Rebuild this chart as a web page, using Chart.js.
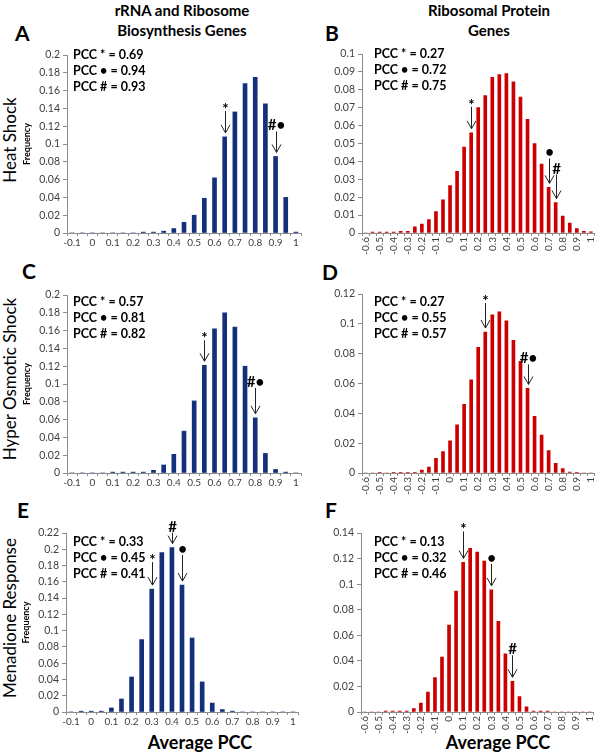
<!DOCTYPE html>
<html>
<head>
<meta charset="utf-8">
<script src="https://cdn.jsdelivr.net/npm/chart.js@4/dist/chart.umd.min.js"></script>
<style>
  body { margin: 0; background: #fff; width: 600px; height: 752px; position: relative; overflow: hidden; font-family: Lato, sans-serif; color: #000; }
  canvas { position: absolute; }
  .txt { position: absolute; white-space: nowrap; }
  .coltitle { font-weight: bold; font-size: 15px; line-height: 20px; text-align: center; width: 220px; }
  .letter { font-size: 21px; line-height: 20px; font-weight: bold; }
  .rowlab { font-size: 17px; transform: translate(-50%, -50%) rotate(-90deg); }
  .xtitle { font-weight: bold; font-size: 18px; transform: translate(-50%, -50%); }
</style>
</head>
<body>

<div class="txt coltitle" style="left:72px; top:0px;">rRNA and Ribosome<br>Biosynthesis Genes</div>
<div class="txt coltitle" style="left:379px; top:0px;">Ribosomal Protein<br>Genes</div>

<div class="txt letter" style="left:15px; top:23px;">A</div>
<div class="txt letter" style="left:325px; top:23px;">B</div>
<div class="txt letter" style="left:22px; top:261px;">C</div>
<div class="txt letter" style="left:322px; top:262px;">D</div>
<div class="txt letter" style="left:17px; top:500px;">E</div>
<div class="txt letter" style="left:325px; top:500px;">F</div>

<div class="txt rowlab" style="left:9px; top:140px;">Heat Shock</div>
<div class="txt rowlab" style="left:9px; top:379px;">Hyper Osmotic Shock</div>
<div class="txt rowlab" style="left:9px; top:618px;">Menadione Response</div>

<div class="txt xtitle" style="left:200px; top:742px;">Average PCC</div>
<div class="txt xtitle" style="left:498px; top:742px;">Average PCC</div>

<script>
// bins (category axis)
const rrnaBins = ['-0.1', '-0.05', '0', '0.05', '0.1', '0.15', '0.2', '0.25', '0.3', '0.35', '0.4', '0.45',
  '0.5', '0.55', '0.6', '0.65', '0.7', '0.75', '0.8', '0.85', '0.9', '0.95', '1'];
const rpBins = ['-0.6', '-0.55', '-0.5', '-0.45', '-0.4', '-0.35', '-0.3', '-0.25', '-0.2', '-0.15', '-0.1', '-0.05',
  '0', '0.05', '0.1', '0.15', '0.2', '0.25', '0.3', '0.35', '0.4', '0.45', '0.5', '0.55', '0.6', '0.65',
  '0.7', '0.75', '0.8', '0.85', '0.9', '0.95', '1'];

// tick labels that are shown
const rrnaTicks = ['-0.1', '0', '0.1', '0.2', '0.3', '0.4', '0.5', '0.6', '0.7', '0.8', '0.9', '1'];
const rpTicks = ['-0.6', '-0.5', '-0.4', '-0.3', '-0.2', '-0.1', '0', '0.1', '0.2', '0.3', '0.4', '0.5',
  '0.6', '0.7', '0.8', '0.9', '1'];

// frequencies
const heatRrna = [0, 0, 0, 0, 0, 0, 0, 0.001, 0.001, 0.002, 0.005, 0.012, 0.02, 0.039, 0.062, 0.108,
  0.136, 0.168, 0.175, 0.145, 0.086, 0.04, 0.001];
const osmoticRrna = [0, 0, 0, 0, 0.001, 0.001, 0.001, 0.001, 0.003, 0.009, 0.021, 0.047, 0.081, 0.121,
  0.162, 0.18, 0.164, 0.12, 0.062, 0.022, 0.004, 0.001, 0];
const menadioneRrna = [0, 0.001, 0.001, 0.001, 0.005, 0.016, 0.043, 0.089, 0.151, 0.196, 0.202, 0.156,
  0.091, 0.037, 0.011, 0.003, 0.001, 0, 0, 0, 0, 0, 0];

const heatRp = [0, 0.0005, 0.0005, 0.0005, 0.0005, 0.001, 0.001, 0.0035, 0.005, 0.0075, 0.012, 0.0185,
  0.0265, 0.0345, 0.048, 0.056, 0.07, 0.0768, 0.087, 0.0885, 0.089, 0.0845, 0.076, 0.0635, 0.05, 0.0385,
  0.0255, 0.017, 0.0095, 0.0055, 0.0025, 0.001, 0.0007];
const osmoticRp = [0, 0, 0.0005, 0, 0.0005, 0.0005, 0.0005, 0.0005, 0.002, 0.004, 0.0098, 0.0143,
  0.0215, 0.0323, 0.046, 0.0625, 0.0843, 0.0945, 0.106, 0.108, 0.102, 0.089, 0.0748, 0.0567, 0.038, 0.0255,
  0.015, 0.0065, 0.003, 0.0007, 0.0005, 0, 0];
const menadioneRp = [0, 0, 0, 0.0007, 0.0007, 0.0007, 0.0007, 0.0027, 0.007, 0.0155, 0.027, 0.043,
  0.068, 0.0945, 0.117, 0.128, 0.125, 0.118, 0.0955, 0.071, 0.0455, 0.024, 0.012, 0.004, 0.0007, 0.0007,
  0.0007, 0, 0, 0, 0, 0, 0];

// PCC values: *, bullet, #
const pccNames = ['PCC * = ', 'PCC \u2022 = ', 'PCC # = '];
const heatRrnaPcc = [0.69, 0.94, 0.93];
const heatRpPcc = [0.27, 0.72, 0.75];
const osmoticRrnaPcc = [0.57, 0.81, 0.82];
const osmoticRpPcc = [0.27, 0.55, 0.57];
const menadioneRrnaPcc = [0.33, 0.45, 0.41];
const menadioneRpPcc = [0.13, 0.32, 0.46];

// arrows: symbol, bin it points at, arrow length
const heatRrnaMarks = [['*', '0.65', 22], ['#\u2022', '0.9', 21]];
const heatRpMarks = [['*', '0.15', 22], ['\u2022', '0.7', 25], ['#', '0.75', 24]];
const osmoticRrnaMarks = [['*', '0.55', 21], ['#\u2022', '0.8', 26]];
const osmoticRpMarks = [['*', '0.25', 25], ['#\u2022', '0.55', 20]];
const menadioneRrnaMarks = [['*', '0.3', 23], ['#', '0.4', 11], ['\u2022', '0.45', 26]];
const menadioneRpMarks = [['*', '0.1', 27], ['\u2022', '0.3', 22], ['#', '0.45', 22]];

const navy = '#13307a';
const red = '#cc0000';

Chart.defaults.font.family = 'Lato, sans-serif';
Chart.defaults.color = '#404040';

// draws the arrows over bars and the PCC text block
const markerPlugin = {
    id: 'markers',
    afterDatasetsDraw(chart, args, opts) {
        const ctx = chart.ctx;
        const bars = chart.getDatasetMeta(0).data;
        const labels = chart.data.labels;
        ctx.save();
        opts.marks.forEach(([sym, bin, len]) => {
            const bar = bars[labels.indexOf(bin)];
            const x = Math.round(bar.x) + 0.5;
            const end = bar.y - 4;
            const start = end - len;
            ctx.strokeStyle = '#222';
            ctx.lineWidth = 1;
            ctx.beginPath();
            ctx.moveTo(x, start);
            ctx.lineTo(x, end);
            ctx.moveTo(x - 4.5, end - 8);
            ctx.lineTo(x, end);
            ctx.lineTo(x + 4.5, end - 8);
            ctx.stroke();
            ctx.fillStyle = '#000';
            ctx.font = 'bold 15px Lato, sans-serif';
            ctx.textAlign = 'center';
            ctx.textBaseline = 'alphabetic';
            ctx.fillText(sym, x, sym === '*' ? start + 3 : start - 1);
        });
        ctx.font = 'bold 12.5px Lato, sans-serif';
        ctx.textAlign = 'left';
        ctx.textBaseline = 'middle';
        ctx.fillStyle = '#000';
        opts.pcc.forEach((v, i) => {
            ctx.fillText(pccNames[i] + v.toFixed(2), chart.chartArea.left + opts.textDx,
                chart.chartArea.top + opts.textDy + i * 16);
        });
        ctx.restore();
    }
};

const panels = [
    { bins: rrnaBins, ticks: rrnaTicks, values: heatRrna, color: navy, max: 0.2, step: 0.02,
      pcc: heatRrnaPcc, marks: heatRrnaMarks, area: [67, 55, 301, 233], textDx: 6, textDy: 0, left: true },
    { bins: rpBins, ticks: rpTicks, values: heatRp, color: red, max: 0.1, step: 0.01,
      pcc: heatRpPcc, marks: heatRpMarks, area: [362, 54, 598, 233], textDx: 12, textDy: 0, left: false },
    { bins: rrnaBins, ticks: rrnaTicks, values: osmoticRrna, color: navy, max: 0.2, step: 0.02,
      pcc: osmoticRrnaPcc, marks: osmoticRrnaMarks, area: [67, 295, 301, 473], textDx: 6, textDy: 7, left: true },
    { bins: rpBins, ticks: rpTicks, values: osmoticRp, color: red, max: 0.12, step: 0.01,
      pcc: osmoticRpPcc, marks: osmoticRpMarks, area: [362, 294, 598, 473], textDx: 12, textDy: 8, left: false },
    { bins: rrnaBins, ticks: rrnaTicks, values: menadioneRrna, color: navy, max: 0.22, step: 0.02,
      pcc: menadioneRrnaPcc, marks: menadioneRrnaMarks, area: [66, 533, 298, 712], textDx: 7, textDy: 9, left: true },
    { bins: rpBins, ticks: rpTicks, values: menadioneRp, color: red, max: 0.14, step: 0.01,
      pcc: menadioneRpPcc, marks: menadioneRpMarks, area: [361, 533, 597, 712], textDx: 13, textDy: 9, left: false }
];

function makeChart(p) {
    const yWidth = 48, padT = 30, padR = 6;
    const xHeight = p.left ? 22 : 26;
    const [l, t, r, b] = p.area;
    const canvas = document.createElement('canvas');
    const cl = l - yWidth, ct = t - padT;
    canvas.width = r + padR - cl;
    canvas.height = b + xHeight - ct;
    canvas.style.left = cl + 'px';
    canvas.style.top = ct + 'px';
    document.body.appendChild(canvas);

    new Chart(canvas, {
        type: 'bar',
        data: {
            labels: p.bins,
            datasets: [{ data: p.values, backgroundColor: p.color, barThickness: p.left ? 4 : 3 }]
        },
        options: {
            responsive: false,
            animation: false,
            layout: { padding: { top: padT, right: padR, left: 0, bottom: 0 } },
            plugins: {
                legend: { display: false },
                tooltip: { enabled: false },
                markers: { marks: p.marks, pcc: p.pcc, textDx: p.textDx, textDy: p.textDy }
            },
            scales: {
                x: {
                    grid: { offset: true, drawOnChartArea: false, tickLength: 3, color: '#8c8c8c' },
                    border: { color: '#8c8c8c' },
                    ticks: {
                        autoSkip: false,
                        maxRotation: p.left ? 0 : 90,
                        minRotation: p.left ? 0 : 90,
                        padding: 1,
                        font: { size: 10 },
                        callback: (v, i) => p.ticks.includes(p.bins[i]) ? p.bins[i] : ''
                    },
                    afterFit: s => { s.height = xHeight; }
                },
                y: {
                    min: 0,
                    max: p.max,
                    grid: { drawOnChartArea: false, tickLength: 4, color: '#8c8c8c' },
                    border: { color: '#8c8c8c' },
                    ticks: { stepSize: p.step, padding: 3, font: { size: 10.5 }, callback: v => +v.toFixed(3) },
                    title: { display: p.left, text: 'Frequency', color: '#000',
                             font: { size: 9, weight: 'bold' }, padding: { top: 3, bottom: 0 } },
                    afterFit: s => { s.width = yWidth; }
                }
            }
        },
        plugins: [markerPlugin]
    });
}

panels.forEach(makeChart);
</script>
</body>
</html>
